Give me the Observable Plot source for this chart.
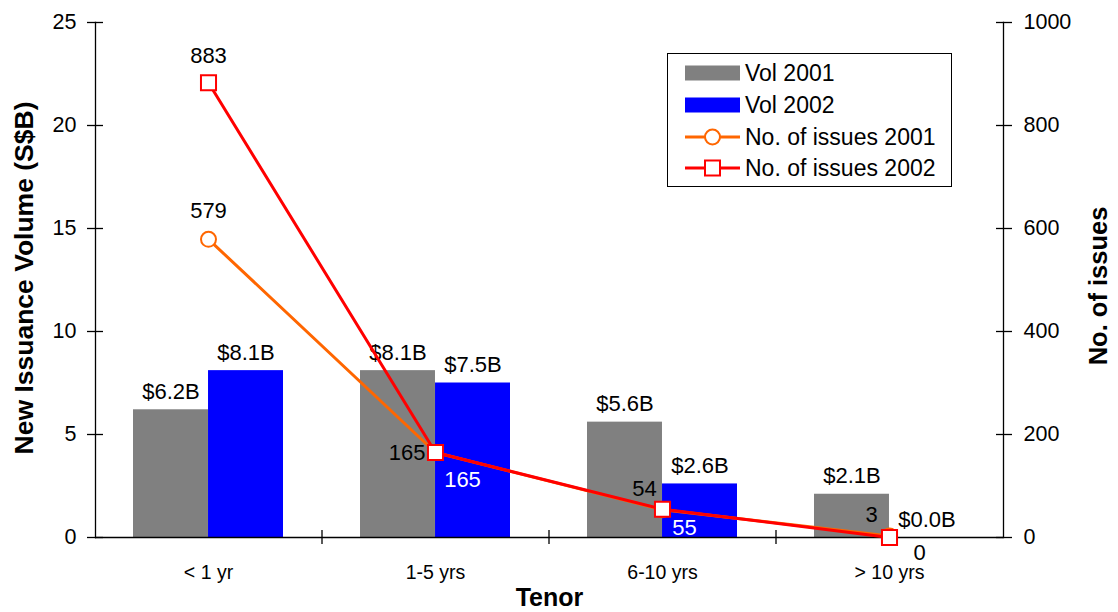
<!DOCTYPE html>
<html>
<head>
<meta charset="utf-8">
<script src="https://cdn.jsdelivr.net/npm/d3@7"></script>
<script src="https://cdn.jsdelivr.net/npm/@observablehq/plot@0.6"></script>
<style>
  html, body { margin: 0; padding: 0; background: #fff; }
  body { font-family: "Liberation Sans", Arial, sans-serif; }
  #wrap { position: relative; width: 1118px; height: 612px; overflow: hidden; }
  #legend { position: absolute; left: 667px; top: 53px; width: 285px; height: 134px;
            border: 1.5px solid #000; background: #fff; box-sizing: border-box; }
  .item { position: absolute; left: 16px; height: 30px; display: flex; align-items: center; }
  .item svg { display: block; }
  .item span { font-size: 23px; color: #000; margin-left: 4px; white-space: nowrap; }
</style>
</head>
<body>
<div id="wrap"></div>
<script>
// ---- data ----
const categories = ["< 1 yr", "1-5 yrs", "6-10 yrs", "> 10 yrs"];
const vol2001 = [6.2, 8.1, 5.6, 2.1];
const vol2002 = [8.1, 7.5, 2.6, 0.0];
const issues2001 = [579, 165, 54, 3];
const issues2002 = [883, 165, 55, 0];
const volLabels2001 = ["$6.2B", "$8.1B", "$5.6B", "$2.1B"];
const volLabels2002 = ["$8.1B", "$7.5B", "$2.6B", "$0.0B"];
const leftTicks = [0, 5, 10, 15, 20, 25];
const rightTicks = [0, 200, 400, 600, 800, 1000];
const seriesNames = ["Vol 2001", "Vol 2002", "No. of issues 2001", "No. of issues 2002"];

const ratio = rightTicks[rightTicks.length - 1] / leftTicks[leftTicks.length - 1];

const rows = categories.map((c, i) => ({
  cat: c, v1: vol2001[i], v2: vol2002[i], n1: issues2001[i], n2: issues2002[i],
  l1: volLabels2001[i], l2: volLabels2002[i], i
}));

const GRAY = "#808080", BLUE = "#0000FF", ORANGE = "#FF6600", RED = "#FF0000";
const W = 1118, H = 612, ML = 95, MR = 115, MT = 22, MB = 75;
const step = (W - ML - MR) / categories.length;
const half = step * (1 - 0.339) / 2;

const chart = Plot.plot({
  width: W, height: H,
  marginLeft: ML, marginRight: MR, marginTop: MT, marginBottom: MB,
  style: { fontFamily: "'Liberation Sans', Arial, sans-serif", background: "#fff", overflow: "visible" },
  x: { type: "band", domain: categories, paddingInner: 0.339, paddingOuter: 0.1695, axis: null },
  y: { domain: [0, 25], axis: null },
  marks: [
    // bars
    Plot.barY(rows, { x: "cat", y: "v1", fill: GRAY, insetRight: half }),
    Plot.barY(rows, { x: "cat", y: "v2", fill: BLUE, insetLeft: half }),
    // frame lines
    Plot.frame({ anchor: "left", stroke: "#000", strokeWidth: 1.3 }),
    Plot.frame({ anchor: "right", stroke: "#000", strokeWidth: 1.3 }),
    Plot.ruleY([0], { stroke: "#000", strokeWidth: 1.3 }),
    // x boundary ticks
    Plot.ruleX(categories.slice(1), { x: d => d, y1: 0, y2: 0, dx: -step / 2, insetTop: -7, insetBottom: -7, stroke: "#000", strokeWidth: 1.3 }),
    // axes
    Plot.axisY({ ticks: leftTicks, tickSize: 16, dx: 8, tickPadding: 11, fontSize: 21.5, label: null, strokeWidth: 1.3 }),
    Plot.axisY({ anchor: "right", ticks: leftTicks, tickFormat: d => String(d * ratio), tickSize: 16, dx: -8, tickPadding: 12, fontSize: 21.5, label: null, strokeWidth: 1.3 }),
    Plot.axisX({ tickSize: 0, tickPadding: 28, fontSize: 19.5, label: null }),
    // axis titles
    Plot.text(["New Issuance Volume (S$B)"], { frameAnchor: "left", textAnchor: "middle", rotate: -90, dx: -71, dy: -2, fontSize: 26.5, fontWeight: "bold", fill: "#000" }),
    Plot.text(["No. of issues"], { frameAnchor: "right", textAnchor: "middle", rotate: -90, dx: 95, dy: 6, fontSize: 25.5, fontWeight: "bold", fill: "#000" }),
    Plot.text(["Tenor"], { frameAnchor: "bottom", dy: 68, fontSize: 25, fontWeight: "bold", fill: "#000" }),
    // bar value labels
    Plot.text(rows, { x: "cat", y: "v1", text: "l1", dx: -half / 2, dy: -11, lineAnchor: "bottom", fontSize: 22, fill: "#000" }),
    Plot.text(rows, { x: "cat", y: "v2", text: "l2", dx: half / 2, dy: -11, lineAnchor: "bottom", fontSize: 22, fill: "#000" }),
    // issue lines
    Plot.line(rows, { x: "cat", y: d => d.n1 / ratio, stroke: ORANGE, strokeWidth: 3 }),
    Plot.dot(rows, { x: "cat", y: d => d.n1 / ratio, symbol: "circle", r: 7.5, fill: "#fff", stroke: ORANGE, strokeWidth: 2 }),
    Plot.line(rows, { x: "cat", y: d => d.n2 / ratio, stroke: RED, strokeWidth: 3 }),
    Plot.dot(rows, { x: "cat", y: d => d.n2 / ratio, symbol: "square", r: 8.5, fill: "#fff", stroke: RED, strokeWidth: 2 }),
    // issue labels 2001
    Plot.text(rows.filter(d => d.i === 0), { x: "cat", y: d => d.n1 / ratio, text: d => String(d.n1), dy: -21, lineAnchor: "bottom", fontSize: 22, fill: "#000" }),
    Plot.text(rows.filter(d => d.i === 1), { x: "cat", y: d => d.n1 / ratio, text: d => String(d.n1), dx: -10, textAnchor: "end", fontSize: 22, fill: "#000" }),
    Plot.text(rows.filter(d => d.i >= 2), { x: "cat", y: d => d.n1 / ratio, text: d => String(d.n1), dx: -18, dy: -21, fontSize: 22, fill: "#000" }),
    // issue labels 2002
    Plot.text(rows.filter(d => d.i === 0), { x: "cat", y: d => d.n2 / ratio, text: d => String(d.n2), dy: -20, lineAnchor: "bottom", fontSize: 22, fill: "#000" }),
    Plot.text(rows.filter(d => d.i === 1), { x: "cat", y: d => d.n2 / ratio, text: d => String(d.n2), dx: 27, dy: 27, fontSize: 22, fill: "#fff" }),
    Plot.text(rows.filter(d => d.i === 2), { x: "cat", y: d => d.n2 / ratio, text: d => String(d.n2), dx: 22, dy: 19, fontSize: 22, fill: "#fff" }),
    Plot.text(rows.filter(d => d.i === 3), { x: "cat", y: d => d.n2 / ratio, text: d => String(d.n2), dx: 30, dy: 15, fontSize: 22, fill: "#000" })
  ]
});

const wrap = document.getElementById("wrap");
wrap.appendChild(chart);

// legend
const legend = document.createElement("div");
legend.id = "legend";
const swatches = [
  `<svg width="57" height="16"><rect x="1" y="0.5" width="55" height="15" fill="${GRAY}"/></svg>`,
  `<svg width="57" height="16"><rect x="1" y="0.5" width="55" height="15" fill="${BLUE}"/></svg>`,
  `<svg width="57" height="18"><line x1="1" x2="56" y1="9" y2="9" stroke="${ORANGE}" stroke-width="3"/><circle cx="28.5" cy="9" r="7.5" fill="#fff" stroke="${ORANGE}" stroke-width="2"/></svg>`,
  `<svg width="57" height="18"><line x1="1" x2="56" y1="9" y2="9" stroke="${RED}" stroke-width="3"/><rect x="21" y="1.5" width="15" height="15" fill="#fff" stroke="${RED}" stroke-width="2"/></svg>`
];
const tops = [4, 36, 68, 99];
seriesNames.forEach((name, i) => {
  const it = document.createElement("div");
  it.className = "item";
  it.style.top = tops[i] + "px";
  it.innerHTML = swatches[i] + `<span>${name}</span>`;
  legend.appendChild(it);
});
wrap.appendChild(legend);
</script>
</body>
</html>
